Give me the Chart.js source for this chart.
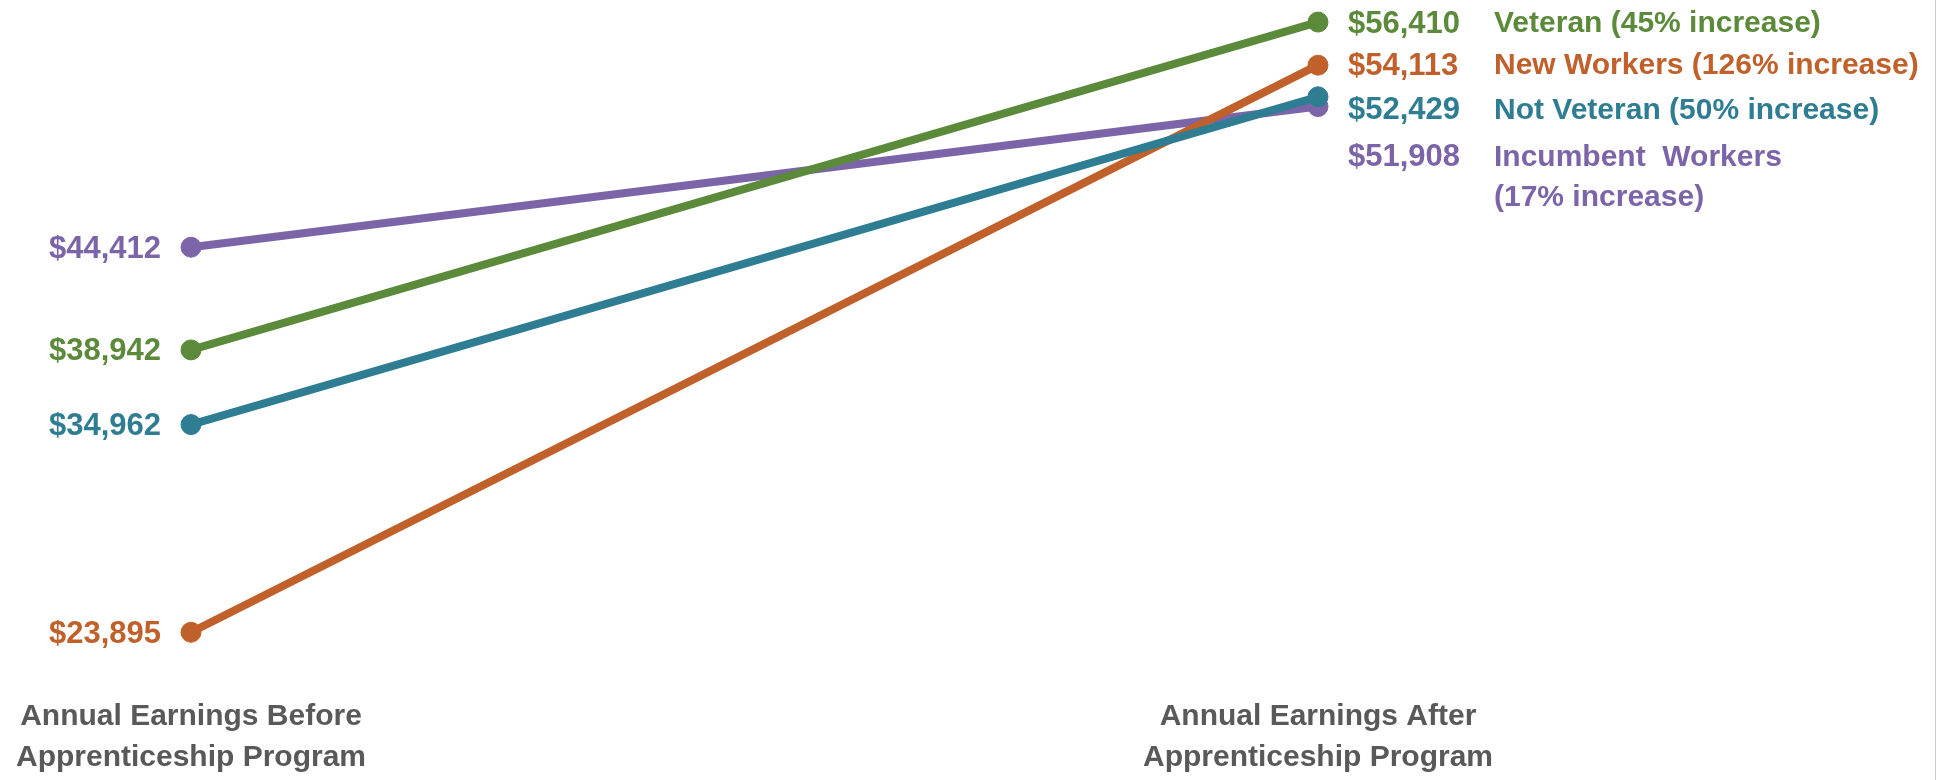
<!DOCTYPE html>
<html>
<head>
<meta charset="utf-8">
<script src="https://cdn.jsdelivr.net/npm/chart.js@4/dist/chart.umd.min.js"></script>
<style>
  html, body { margin: 0; padding: 0; background: #fff; }
  #wrap { position: relative; width: 1939px; height: 780px; }
  #edge { position: absolute; left: 1935px; top: 0; width: 1px; height: 780px; background: #cbcbcb; }
</style>
</head>
<body>
<div id="wrap">
  <canvas id="chartSlope"></canvas>
  <div id="edge"></div>
</div>
<script>
// before / after apprenticeship earnings
var periods = [
  ['Annual Earnings Before', 'Apprenticeship Program'],
  ['Annual Earnings After', 'Apprenticeship Program']
];
var groups = ['Veteran', 'New Workers', 'Not Veteran', 'Incumbent  Workers'];
var before = [38942, 23895, 34962, 44412];
var after = [56410, 54113, 52429, 51908];

var colors = ['#5a8a3a', '#c0602a', '#2e7d92', '#7b65a8'];
var drawOrder = [2, 1, 0, 3];      // teal on top, purple underneath
var nameShift = [2, 1, 14, 51];    // nudge right-hand labels apart
var nameBreak = [false, false, false, true];

var FONT = '"Liberation Sans", Arial, sans-serif';

function money(v) {
  return '$' + v.toLocaleString('en-US');
}

var sideLabels = {
  id: 'sideLabels',
  afterDatasetsDraw: function(chart) {
    var ctx = chart.ctx;
    ctx.save();
    ctx.textBaseline = 'middle';
    chart.data.datasets.forEach(function(ds, i) {
      var pts = chart.getDatasetMeta(i).data;
      ctx.fillStyle = ds.borderColor;
      ctx.font = 'bold 31px ' + FONT;
      ctx.textAlign = 'right';
      ctx.fillText(money(ds.data[0]), pts[0].x - 30, pts[0].y + 2);
      ctx.textAlign = 'left';
      var y = pts[1].y + nameShift[i];
      ctx.fillText(money(ds.data[1]), pts[1].x + 30, y);
      ctx.font = 'bold 30px ' + FONT;
      var pct = Math.round((ds.data[1] / ds.data[0] - 1) * 100) + '% increase)';
      var lines = nameBreak[i] ? [groups[i], '(' + pct] : [groups[i] + ' (' + pct];
      lines.forEach(function(t, k) {
        ctx.fillText(t, pts[1].x + 176, y + k * 40);
      });
    });
    ctx.restore();
  }
};

var datasets = groups.map(function(g, i) {
  return {
    label: g,
    data: [before[i], after[i]],
    borderColor: colors[i],
    backgroundColor: colors[i],
    borderWidth: 8,
    pointRadius: 10,
    pointBorderWidth: 1,
    pointHoverRadius: 10,
    order: drawOrder[i],
    clip: false
  };
});

var ctx = document.getElementById('chartSlope');
var slope = new Chart(ctx, {
  type: 'line',
  data: { labels: periods, datasets: datasets },
  options: {
    responsive: true,
    maintainAspectRatio: false,
    animation: false,
    events: [],
    layout: { padding: { left: 191, right: 621, top: 10, bottom: 2 } },
    plugins: { legend: { display: false }, tooltip: { enabled: false } },
    scales: {
      x: {
        grid: { display: false, drawTicks: false },
        border: { display: false },
        ticks: {
          color: '#595959',
          font: { family: FONT, size: 30, weight: 'bold', lineHeight: '41px' },
          padding: 0,
          maxRotation: 0,
          autoSkip: false
        }
      },
      y: { display: false, min: 20500, max: 57000 }
    }
  },
  plugins: [sideLabels]
});
</script>
</body>
</html>
